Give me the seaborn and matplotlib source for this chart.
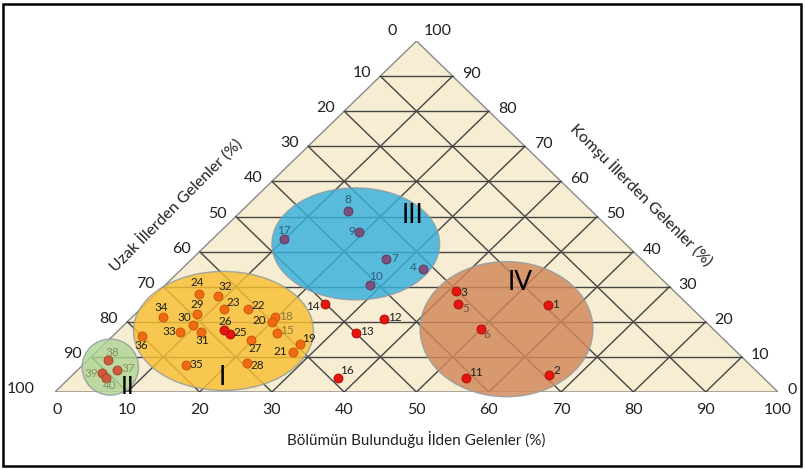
import matplotlib
matplotlib.use("Agg")
import matplotlib.pyplot as plt
from matplotlib.patches import Ellipse, Polygon, Rectangle
import pandas as pd
import seaborn as sns


# --- data (percent) --------------------------------------------------------
POINT_IDS = list(range(1, 41))
BOLUM = [55.8, 65.9, 41.0, 33.3, 43.2, 49.9, 26.9, 14.7, 19.3, 28.3,
         54.8, 35.1, 33.2, 24.8, 22.3, 37.1, 9.9, 19.7, 27.0, 20.0,
         27.1, 14.8, 11.6, 6.0, 15.9, 14.5, 19.7, 22.4, 8.5, 9.5,
         11.7, 8.9, 8.7, 4.2, 14.2, 4.0, 5.5, 2.8, 3.8, 5.1]
KOMSU = [24.7, 4.8, 28.9, 35.1, 25.1, 18.0, 37.9, 51.7, 45.6, 30.4,
         4.1, 20.7, 16.9, 25.0, 16.8, 4.1, 43.5, 21.4, 13.8, 19.9,
         11.5, 23.7, 23.6, 27.9, 16.6, 17.8, 14.7, 8.4, 22.3, 19.1,
         17.1, 27.4, 17.2, 21.4, 7.7, 16.0, 6.2, 9.0, 5.3, 3.9]
UZAK = [round(100 - b - k, 1) for b, k in zip(BOLUM, KOMSU)]

# marker colour class of each point
MARKER_CLASS = ["red", "red", "red", "purple", "red", "red", "purple", "purple", "purple", "purple",
                "red", "red", "red", "red", "orange", "red", "purple", "orange", "orange", "orange",
                "orange", "orange", "orange", "orange", "red", "red", "orange", "orange", "orange", "orange",
                "orange", "orange", "orange", "orange", "orange", "orange", "brick", "brick", "brick", "brick"]

# cluster ellipses (centre as Bölüm / Komşu, extent in axis percent)
CLUSTERS = ["I", "II", "III", "IV"]
CLUSTER_BOLUM = [14.6, 4.1, 20.5, 53.5]
CLUSTER_KOMSU = [17.4, 7.1, 42.2, 17.9]
CLUSTER_WIDTH = [24.9, 7.8, 23.2, 23.9]
CLUSTER_HEIGHT = [33.9, 16.0, 31.9, 38.5]

TICKS = [0, 10, 20, 30, 40, 50, 60, 70, 80, 90, 100]

# --- styling / layout -------------------------------------------------------
FILL = {"I": "#F9BF32", "II": "#AED596", "III": "#35B1DE", "IV": "#D3875A"}
POINT_COLORS = {"red": ("#E8140F", "#A00C0A"), "purple": ("#7E4E7C", "#5A3558"),
                "orange": ("#F06A12", "#C4520C"), "brick": ("#CF5A3A", "#9E3F28")}
NUMERAL_POS = {"I": (21.1, 4.0), "II": (9.3, 1.5), "III": (24.2, 50.4), "IV": (48.8, 31.1)}

# label offset in pixels (dx right, dy down)
LABEL_OFFSET = {
    1: (8, -1), 2: (8, -5), 3: (8, 2), 4: (-9, -1), 5: (8, 5), 6: (6, 6),
    7: (8, 0), 8: (0, -11), 9: (-8, 0), 10: (6, -9), 11: (10, -5), 12: (11, -2),
    13: (11, -1), 14: (-12, 2), 15: (10, -3), 16: (9, -7), 17: (0, -9), 18: (11, 0),
    19: (9, -5), 20: (-12, -2), 21: (-12, 0), 22: (11, -3), 23: (9, -7), 24: (-2, -12),
    25: (10, -1), 26: (1, -8), 27: (5, 8), 28: (10, 3), 29: (0, -9), 30: (-8, -7),
    31: (1, 9), 32: (7, -9), 33: (-11, 0), 34: (-1, -9), 35: (11, 0), 36: (0, 10),
    37: (11, -2), 38: (5, -8), 39: (-10, 0), 40: (4, 7),
}
LABEL_COLOR = {i: "#2D5E77" for i in (4, 7, 8, 9, 10, 17)}
LABEL_COLOR.update({i: "#8C9063" for i in (37, 38, 39, 40)})
LABEL_COLOR.update({15: "#8A7640", 18: "#8A7640", 5: "#6E5045", 6: "#6E5045"})


def to_xy(b, k):
    # Bölüm runs along the bottom, Komşu is the height
    return b + k / 2.0, k


sns.set_theme(style="white")
plt.rcParams["font.family"] = ["Lato", "DejaVu Sans"]

W, H = 805, 470
fig = plt.figure(figsize=(W / 100, H / 100), dpi=100)
fig.patch.set_facecolor("white")
ax = fig.add_axes([55 / W, 78 / H, 723 / W, 351 / H])

# triangle + grid
tri = Polygon([to_xy(0, 0), to_xy(100, 0), to_xy(0, 100)], closed=True,
              facecolor="#F6EDD2", edgecolor="#8A8A8A", linewidth=1.0, zorder=0)
ax.add_patch(tri)
for t in TICKS[1:-1]:
    segs = [
        (to_xy(0, t), to_xy(100 - t, t)),       # constant Komşu
        (to_xy(t, 0), to_xy(t, 100 - t)),       # constant Bölüm
        (to_xy(100 - t, 0), to_xy(0, 100 - t)),  # constant Uzak
    ]
    for (x0, y0), (x1, y1) in segs:
        ax.plot([x0, x1], [y0, y1], color="#454545", linewidth=1.0, zorder=1)

# cluster ellipses
for name, b, k, w, h in zip(CLUSTERS, CLUSTER_BOLUM, CLUSTER_KOMSU, CLUSTER_WIDTH, CLUSTER_HEIGHT):
    ax.add_patch(Ellipse(to_xy(b, k), w, h, facecolor=FILL[name], edgecolor="#8E9AA2",
                         linewidth=1.0, alpha=0.82, zorder=2, clip_on=False))
    nx, ny = to_xy(*NUMERAL_POS[name])
    ax.text(nx, ny, name, fontsize=18 if name == "II" else 19, ha="center", va="center",
            color="black", zorder=6)

# points
df = pd.DataFrame({"id": POINT_IDS, "Bolum": BOLUM, "Komsu": KOMSU, "Uzak": UZAK, "cls": MARKER_CLASS})
df["x"], df["y"] = to_xy(df["Bolum"], df["Komsu"])
for cls, g in df.groupby("cls"):
    face, edge = POINT_COLORS[cls]
    sns.scatterplot(data=g, x="x", y="y", color=face, edgecolor=edge, linewidth=0.6,
                    s=42, legend=False, ax=ax, zorder=5, clip_on=False)

for _, r in df.iterrows():
    dx, dy = LABEL_OFFSET[r["id"]]
    ax.annotate(str(r["id"]), (r["x"], r["y"]), xytext=(dx, -dy), textcoords="offset pixels",
                ha="center", va="center", fontsize=8.5,
                color=LABEL_COLOR.get(r["id"], "#1E1E1E"), zorder=7)

# axis tick labels
for t in TICKS:
    x, y = to_xy(t, 0)
    ax.annotate(str(t), (x, y), xytext=(2 if t == 0 else 0, -18), textcoords="offset pixels",
                ha="center", va="center", fontsize=11.5, color="#222222")
    x, y = to_xy(0, t)
    ax.annotate(str(100 - t), (x, y), xytext=(-20 if t in (0, 100) else -9, 3 if t < 100 else 10),
                textcoords="offset pixels", ha="right", va="center", fontsize=11.5, color="#222222")
    x, y = to_xy(100 - t, t)
    ax.annotate(str(t), (x, y), xytext=(9 if t < 100 else 7, 2 if t < 100 else 10),
                textcoords="offset pixels", ha="left", va="center", fontsize=11.5, color="#222222")

# axis titles
fig.text(416 / W, 1 - 440 / H, "Bölümün Bulunduğu İlden Gelenler (%)", ha="center", va="center",
         fontsize=11, color="#222222")
fig.text(176 / W, 1 - 205 / H, "Uzak İllerden Gelenler (%)", ha="center", va="center",
         rotation=45, rotation_mode="anchor", fontsize=11.5, color="#222222")
fig.text(642 / W, 1 - 195 / H, "Komşu İllerden Gelenler (%)", ha="center", va="center",
         rotation=-45, rotation_mode="anchor", fontsize=11.5, color="#222222")

ax.set_xlim(0, 100)
ax.set_ylim(0, 100)
ax.axis("off")

fig.add_artist(Rectangle((3 / W, 4 / H), 798 / W, 462 / H, transform=fig.transFigure,
                         fill=False, edgecolor="black", linewidth=1.8))

fig.savefig("out.png", dpi=100)
